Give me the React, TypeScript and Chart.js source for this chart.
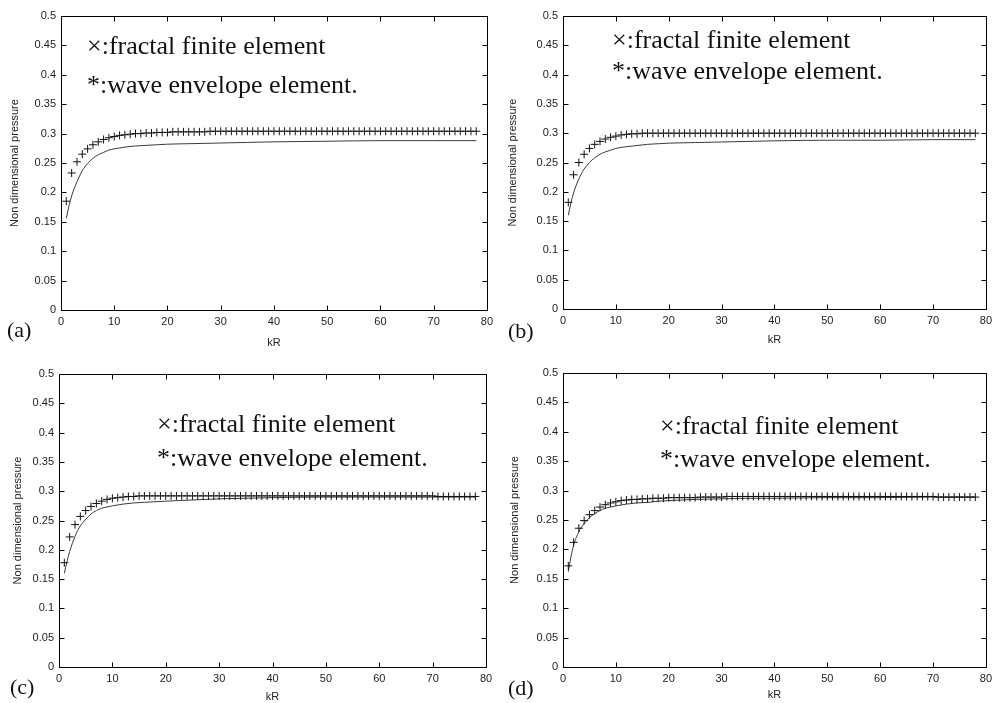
import React, { useEffect, useRef } from 'react';
import { Chart, registerables } from 'chart.js';

Chart.register(...registerables);

// ---------- data ----------
const KR = [
  1, 2, 3, 4, 5, 6, 7, 8, 9, 10, 11, 12, 13, 14, 15, 16, 17, 18, 19, 20,
  21, 22, 23, 24, 25, 26, 27, 28, 29, 30, 31, 32, 33, 34, 35, 36, 37, 38, 39, 40,
  41, 42, 43, 44, 45, 46, 47, 48, 49, 50, 51, 52, 53, 54, 55, 56, 57, 58, 59, 60,
  61, 62, 63, 64, 65, 66, 67, 68, 69, 70, 71, 72, 73, 74, 75, 76, 77, 78,
];

const LINE_X = [1, 1.5, 2, 2.5, 3, 3.5, 4, 5, 6, 7, 8, 9, 10, 12, 14, 16, 18, 20, 25, 30, 35, 40, 50, 60, 70, 78];

const MARK_A = [
  0.185, 0.233, 0.252, 0.265, 0.274, 0.281, 0.286, 0.290, 0.293, 0.295,
  0.297, 0.298, 0.299, 0.300, 0.300, 0.301, 0.301, 0.302, 0.302, 0.302,
  0.303, 0.303, 0.303, 0.303, 0.303, 0.303, 0.303, 0.304, 0.304, 0.304,
  0.304, 0.304, 0.304, 0.304, 0.304, 0.304, 0.304, 0.304, 0.304, 0.304,
  0.304, 0.304, 0.304, 0.304, 0.304, 0.304, 0.304, 0.304, 0.304, 0.304,
  0.304, 0.304, 0.304, 0.304, 0.304, 0.304, 0.304, 0.304, 0.304, 0.304,
  0.304, 0.304, 0.304, 0.304, 0.304, 0.304, 0.304, 0.304, 0.304, 0.304,
  0.304, 0.304, 0.304, 0.304, 0.304, 0.304, 0.304, 0.304,
];
const LINE_A = [0.156, 0.177, 0.194, 0.207, 0.218, 0.228, 0.237, 0.249, 0.258, 0.264, 0.268, 0.272, 0.274, 0.277, 0.279, 0.280, 0.281, 0.282, 0.283, 0.284, 0.285, 0.286, 0.287, 0.288, 0.288, 0.288];

const MARK_B = [
  0.182, 0.229, 0.250, 0.264, 0.274, 0.281, 0.286, 0.290, 0.293, 0.295,
  0.297, 0.298, 0.299, 0.299, 0.300, 0.300, 0.300, 0.300, 0.300, 0.300,
  0.300, 0.300, 0.300, 0.300, 0.300, 0.300, 0.300, 0.300, 0.300, 0.300,
  0.300, 0.300, 0.300, 0.300, 0.300, 0.300, 0.300, 0.300, 0.300, 0.300,
  0.300, 0.300, 0.300, 0.300, 0.300, 0.300, 0.300, 0.300, 0.300, 0.300,
  0.300, 0.300, 0.300, 0.300, 0.300, 0.300, 0.300, 0.300, 0.300, 0.300,
  0.300, 0.300, 0.300, 0.300, 0.300, 0.300, 0.300, 0.300, 0.300, 0.300,
  0.300, 0.300, 0.300, 0.300, 0.300, 0.300, 0.300, 0.300,
];
const LINE_B = [0.160, 0.181, 0.198, 0.211, 0.222, 0.231, 0.239, 0.250, 0.258, 0.264, 0.268, 0.271, 0.274, 0.277, 0.279, 0.281, 0.282, 0.283, 0.284, 0.285, 0.286, 0.287, 0.288, 0.288, 0.289, 0.289];

const MARK_C = [
  0.178, 0.222, 0.243, 0.257, 0.267, 0.274, 0.279, 0.283, 0.286, 0.288,
  0.289, 0.290, 0.291, 0.291, 0.292, 0.292, 0.292, 0.292, 0.292, 0.292,
  0.292, 0.292, 0.292, 0.292, 0.292, 0.292, 0.292, 0.292, 0.292, 0.292,
  0.292, 0.292, 0.292, 0.292, 0.292, 0.292, 0.292, 0.292, 0.292, 0.292,
  0.292, 0.292, 0.292, 0.292, 0.292, 0.292, 0.292, 0.292, 0.292, 0.292,
  0.292, 0.292, 0.292, 0.292, 0.292, 0.292, 0.292, 0.292, 0.292, 0.292,
  0.292, 0.292, 0.292, 0.292, 0.292, 0.292, 0.292, 0.292, 0.292, 0.292,
  0.291, 0.291, 0.291, 0.291, 0.291, 0.291, 0.291, 0.291,
];
const LINE_C = [0.160, 0.180, 0.197, 0.211, 0.223, 0.233, 0.241, 0.252, 0.261, 0.267, 0.271, 0.273, 0.275, 0.278, 0.280, 0.281, 0.282, 0.283, 0.285, 0.287, 0.288, 0.289, 0.290, 0.290, 0.290, 0.290];

const MARK_D = [
  0.172, 0.212, 0.236, 0.249, 0.259, 0.266, 0.272, 0.276, 0.279, 0.281,
  0.283, 0.284, 0.285, 0.285, 0.286, 0.286, 0.287, 0.287, 0.287, 0.288,
  0.288, 0.288, 0.288, 0.288, 0.288, 0.289, 0.289, 0.289, 0.289, 0.289,
  0.290, 0.290, 0.290, 0.290, 0.290, 0.290, 0.290, 0.290, 0.290, 0.290,
  0.290, 0.290, 0.290, 0.290, 0.290, 0.290, 0.290, 0.290, 0.290, 0.290,
  0.290, 0.290, 0.290, 0.290, 0.290, 0.290, 0.290, 0.290, 0.290, 0.290,
  0.290, 0.290, 0.290, 0.290, 0.290, 0.290, 0.290, 0.290, 0.290, 0.290,
  0.289, 0.289, 0.289, 0.289, 0.289, 0.289, 0.289, 0.289,
];
const LINE_D = [0.162, 0.187, 0.207, 0.220, 0.230, 0.238, 0.244, 0.254, 0.261, 0.266, 0.270, 0.272, 0.274, 0.277, 0.279, 0.280, 0.282, 0.283, 0.285, 0.286, 0.287, 0.287, 0.288, 0.288, 0.289, 0.289];

const X_TICK_LABELS = ['0', '10', '20', '30', '40', '50', '60', '70', '80'];
const Y_TICK_LABELS = ['0', '0.05', '0.1', '0.15', '0.2', '0.25', '0.3', '0.35', '0.4', '0.45', '0.5'];

const LEGEND_1 = '×:fractal finite element';
const LEGEND_2 = '*:wave envelope element.';
const X_TITLE = 'kR';
const Y_TITLE = 'Non dimensional pressure';
const PANEL_TAGS = ['(a)', '(b)', '(c)', '(d)'];

// ---------- layout ----------
const SANS = "Arial, 'Liberation Sans', Helvetica, sans-serif";
const SERIF = "'Liberation Serif', 'Times New Roman', Times, serif";

const PANELS = [
  { tag: PANEL_TAGS[0], marks: MARK_A, line: LINE_A, left: 0, top: 0, w: 498, h: 352,
    plot: { left: 61, top: 16, right: 487, bottom: 310 }, yTitlePad: 8, xTitlePad: 2,
    tagPos: { left: 7, top: 319 }, legendPos: { left: 87, top1: 33, top2: 72 } },
  { tag: PANEL_TAGS[1], marks: MARK_B, line: LINE_B, left: 498, top: 0, w: 499, h: 352,
    plot: { left: 65, top: 16, right: 491, bottom: 309 }, yTitlePad: 8, xTitlePad: 5,
    tagPos: { left: 508, top: 320 }, legendPos: { left: 612, top1: 27, top2: 58 } },
  { tag: PANEL_TAGS[2], marks: MARK_C, line: LINE_C, left: 0, top: 352, w: 498, h: 351,
    plot: { left: 59, top: 22, right: 486, bottom: 315 }, yTitlePad: 11, xTitlePad: -1,
    tagPos: { left: 10, top: 676 }, legendPos: { left: 157, top1: 411, top2: 445 } },
  { tag: PANEL_TAGS[3], marks: MARK_D, line: LINE_D, left: 498, top: 352, w: 499, h: 351,
    plot: { left: 65, top: 21, right: 491, bottom: 315 }, yTitlePad: 10, xTitlePad: 1,
    tagPos: { left: 508, top: 677 }, legendPos: { left: 660, top1: 413, top2: 446 } },
];

// frame with inward ticks on all four sides (MATLAB style)
const frameTicks = {
  id: 'frameTicks',
  afterDatasetsDraw(chart: any) {
    const { ctx, chartArea, scales } = chart;
    const xs = scales.x;
    const ys = scales.y;
    const L = Math.round(chartArea.left) + 0.5;
    const R = Math.round(chartArea.right) + 0.5;
    const T = Math.round(chartArea.top) + 0.5;
    const B = Math.round(chartArea.bottom) + 0.5;
    const tl = 5;
    ctx.save();
    ctx.strokeStyle = '#000';
    ctx.lineWidth = 1;
    ctx.beginPath();
    ctx.rect(L, T, R - L, B - T);
    xs.ticks.forEach((t: any) => {
      const px = Math.round(xs.getPixelForValue(t.value)) + 0.5;
      ctx.moveTo(px, B);
      ctx.lineTo(px, B - tl);
      ctx.moveTo(px, T);
      ctx.lineTo(px, T + tl);
    });
    ys.ticks.forEach((t: any) => {
      const py = Math.round(ys.getPixelForValue(t.value)) + 0.5;
      ctx.moveTo(L, py);
      ctx.lineTo(L + tl, py);
      ctx.moveTo(R, py);
      ctx.lineTo(R - tl, py);
    });
    ctx.stroke();
    ctx.restore();
  },
};

function Panel({ p }: { p: any }) {
  const ref = useRef<HTMLCanvasElement | null>(null);
  useEffect(() => {
    if (!ref.current) return;
    const tickFont = { family: SANS, size: 11 };
    const chart = new Chart(ref.current, {
      type: 'line',
      data: {
        datasets: [
          {
            label: 'fractal finite element',
            data: KR.map((x, i) => ({ x, y: p.marks[i] })),
            showLine: false,
            pointStyle: 'cross',
            pointRadius: 4,
            pointHoverRadius: 4,
            pointBorderWidth: 1,
            pointBorderColor: '#111',
            pointBackgroundColor: '#111',
            borderColor: '#111',
          },
          {
            label: 'wave envelope element',
            data: LINE_X.map((x, i) => ({ x, y: p.line[i] })),
            borderColor: '#3a3a3a',
            borderWidth: 1,
            pointRadius: 0,
            pointHoverRadius: 0,
            cubicInterpolationMode: 'monotone',
            fill: false,
          },
        ],
      },
      options: {
        responsive: false,
        animation: false,
        events: [],
        layout: { padding: { left: 0, top: p.plot.top, right: p.w - p.plot.right, bottom: 0 } },
        plugins: { legend: { display: false }, tooltip: { enabled: false } },
        scales: {
          x: {
            type: 'linear',
            min: 0,
            max: 80,
            grid: { display: false, drawTicks: false },
            border: { display: false },
            ticks: {
              stepSize: 10,
              autoSkip: false,
              maxRotation: 0,
              padding: 5,
              color: '#222',
              font: tickFont,
              callback: (v: any, i: number) => X_TICK_LABELS[i] ?? String(v),
            },
            title: {
              display: true,
              text: X_TITLE,
              color: '#222',
              font: tickFont,
              padding: { top: 0, bottom: p.xTitlePad },
            },
            afterFit: (s: any) => { s.height = p.h - p.plot.bottom; },
          },
          y: {
            type: 'linear',
            min: 0,
            max: 0.5,
            grid: { display: false, drawTicks: false },
            border: { display: false },
            ticks: {
              stepSize: 0.05,
              autoSkip: false,
              padding: 5,
              color: '#222',
              font: tickFont,
              callback: (v: any, i: number) => Y_TICK_LABELS[i] ?? String(v),
            },
            title: {
              display: true,
              text: Y_TITLE,
              color: '#222',
              font: tickFont,
              padding: { top: p.yTitlePad, bottom: 0 },
            },
            afterFit: (s: any) => { s.width = p.plot.left; },
          },
        },
      },
      plugins: [frameTicks],
    } as any);
    return () => chart.destroy();
  }, []);
  return (
    <canvas
      ref={ref}
      width={p.w}
      height={p.h}
      style={{ position: 'absolute', left: p.left, top: p.top, width: p.w, height: p.h, display: 'block' }}
    />
  );
}

export default function App() {
  const legendStyle: React.CSSProperties = {
    position: 'absolute',
    fontFamily: SERIF,
    fontSize: 26,
    lineHeight: '26px',
    whiteSpace: 'nowrap',
    color: '#111',
  };
  const tagStyle: React.CSSProperties = {
    position: 'absolute',
    fontFamily: SERIF,
    fontSize: 22,
    lineHeight: '22px',
    whiteSpace: 'nowrap',
    color: '#111',
  };
  return (
    <div style={{ position: 'absolute', left: 0, top: 0, width: 997, height: 703, background: '#fff', overflow: 'hidden' }}>
      {PANELS.map((p) => (
        <Panel key={p.tag} p={p} />
      ))}
      {PANELS.map((p) => (
        <React.Fragment key={p.tag + 'txt'}>
          <div style={{ ...legendStyle, left: p.legendPos.left, top: p.legendPos.top1 }}>{LEGEND_1}</div>
          <div style={{ ...legendStyle, left: p.legendPos.left, top: p.legendPos.top2 }}>{LEGEND_2}</div>
          <div style={{ ...tagStyle, left: p.tagPos.left, top: p.tagPos.top }}>{p.tag}</div>
        </React.Fragment>
      ))}
    </div>
  );
}
